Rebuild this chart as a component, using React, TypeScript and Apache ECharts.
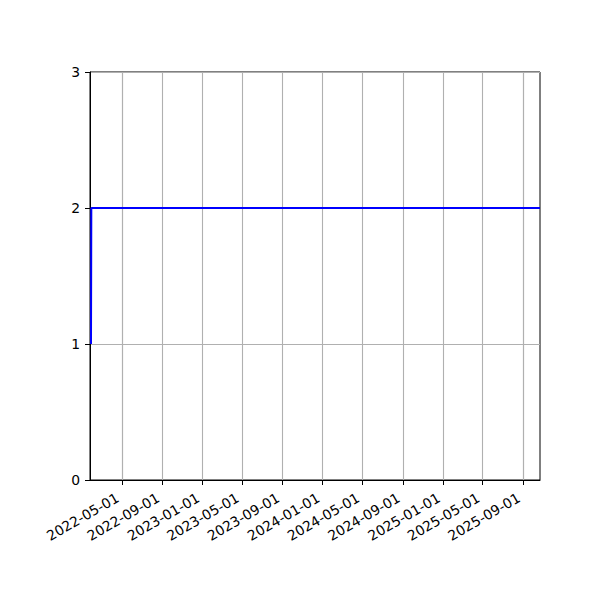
import { useEffect, useRef } from "react";
import * as echarts from "echarts";

// x range of the plot and the dates that get a tick
const X_MIN = "2022-01-24";
const X_MAX = "2025-10-22";
const TICK_DATES = [
  "2022-05-01", "2022-09-01", "2023-01-01", "2023-05-01", "2023-09-01",
  "2024-01-01", "2024-05-01", "2024-09-01", "2025-01-01", "2025-05-01",
  "2025-09-01",
];

// series: one step from 1 up to 2 at the start, then flat
const SERIES_DATES = ["2022-01-27", "2022-01-28", "2025-10-22"];
const SERIES_VALUES = [1, 2, 2];

const Y_TICKS = [0, 1, 2, 3];

const FONT = "DejaVu Sans";
const GRID_COLOR = "#b0b0b0";

export default function App() {
  const chartRef = useRef<HTMLDivElement>(null);

  useEffect(() => {
    if (!chartRef.current) return;
    const chart = echarts.init(chartRef.current, null, { renderer: "svg" });

    chart.setOption({
      animation: false,
      backgroundColor: "#fff",
      grid: {
        left: 90,
        top: 72,
        width: 450,
        height: 408,
        show: true,
        borderColor: "#000",
        borderWidth: 1,
        backgroundColor: "transparent",
        containLabel: false,
      },
      xAxis: {
        type: "time",
        min: X_MIN,
        max: X_MAX,
        axisLine: { show: true, onZero: false, lineStyle: { color: "#000", width: 1 } },
        axisTick: {
          show: true,
          length: 5,
          customValues: TICK_DATES,
          lineStyle: { color: "#000", width: 1 },
        },
        axisLabel: {
          customValues: TICK_DATES,
          formatter: "{yyyy}-{MM}-{dd}",
          rotate: 30,
          margin: 14,
          padding: [0, 5, 0, 0],
          color: "#000",
          fontFamily: FONT,
          fontSize: 13.9,
          hideOverlap: false,
        },
        splitLine: { show: true, lineStyle: { color: GRID_COLOR, width: 1.1 } },
        minorTick: { show: false },
      },
      yAxis: {
        type: "value",
        min: Y_TICKS[0],
        max: Y_TICKS[Y_TICKS.length - 1],
        interval: 1,
        axisLine: { show: true, lineStyle: { color: "#000", width: 1 } },
        axisTick: { show: true, length: 5, lineStyle: { color: "#000", width: 1 } },
        axisLabel: {
          margin: 10,
          color: "#000",
          fontFamily: FONT,
          fontSize: 13.9,
        },
        splitLine: { show: true, lineStyle: { color: GRID_COLOR, width: 1.1 } },
      },
      series: [
        {
          type: "line",
          data: SERIES_DATES.map((d, i) => [d, SERIES_VALUES[i]]),
          showSymbol: false,
          symbol: "none",
          clip: true,
          lineStyle: { color: "#0000ff", width: 2 },
          z: 3,
        },
      ],
    });

    return () => chart.dispose();
  }, []);

  return (
    <div
      ref={chartRef}
      style={{ position: "absolute", left: 0, top: 0, width: "600px", height: "600px" }}
    />
  );
}
